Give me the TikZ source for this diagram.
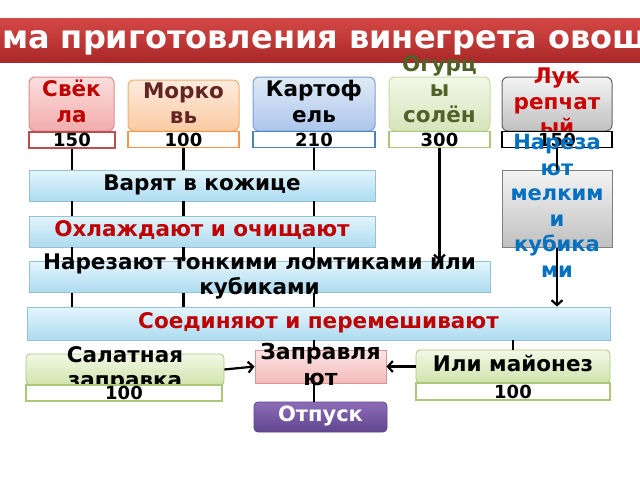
\documentclass[tikz,border=0pt]{standalone}
\usepackage{fontspec}
\setmainfont{DejaVu Sans}
\usetikzlibrary{arrows.meta}

\definecolor{beettxt}{RGB}{192,0,0}
\definecolor{carrottxt}{RGB}{99,37,35}
\definecolor{cuketxt}{RGB}{79,98,40}
\definecolor{onionTxt}{RGB}{204,0,0}
\definecolor{dicetxt}{RGB}{0,112,192}
\definecolor{bartop}{RGB}{228,245,252}
\definecolor{barbot}{RGB}{172,219,240}
\definecolor{barline}{RGB}{150,192,212}
\definecolor{greentop}{RGB}{242,248,230}
\definecolor{greenbot}{RGB}{208,228,172}
\definecolor{greenline}{RGB}{170,200,120}

\newcommand{\spilltext}[1]{\smash{\raisebox{-0.25em}{\begin{tabular}{@{}c@{}}#1\end{tabular}}}}

\tikzset{
  veg/.style={draw, rounded corners=6pt, line width=1pt, inner sep=0pt,
    minimum height=54pt, font=\bfseries\fontsize{21.5}{25.5}\selectfont},
  qty/.style={draw, fill=white, line width=1.3pt, inner sep=0pt,
    minimum height=16pt, font=\bfseries\fontsize{18}{18}\selectfont},
  stage/.style={draw=barline, top color=bartop, bottom color=barbot, line width=0.8pt,
    inner sep=0pt, minimum height=31pt, font=\bfseries\fontsize{21.5}{24.5}\selectfont},
  sauce/.style={draw=greenline, top color=greentop, bottom color=greenbot, rounded corners=4pt,
    line width=0.8pt, inner sep=0pt, minimum height=31pt, font=\bfseries\fontsize{21.5}{25}\selectfont},
  link/.style={draw=black, line width=2.2pt},
  arr/.style={link, ->, >={Straight Barb[length=5pt,width=11pt]}},
}

\begin{document}
\begin{tikzpicture}[x=1pt,y=-1pt]
\useasboundingbox (0,0) rectangle (640,480);

% title
\node[top color={rgb,255:red,212;green,72;blue,70}, bottom color={rgb,255:red,170;green,40;blue,40},
  minimum width=640pt, minimum height=44pt, inner sep=0pt, text=white,
  font=\bfseries\fontsize{32}{32}\selectfont] (title) at (320,40) {\hspace*{10pt}\spilltext{ма приготовления винегрета овощ}};

% vegetables
\node[veg, minimum width=85pt, draw={rgb,255:red,217;green,140;blue,140}, top color={rgb,255:red,251;green,222;blue,222},
  bottom color={rgb,255:red,242;green,172;blue,172}, text=beettxt] (beet) at (71.5,104) {\spilltext{Свёк\\ла}};
\node[veg, minimum width=111pt, minimum height=51pt, draw={rgb,255:red,247;green,170;blue,110}, top color={rgb,255:red,254;green,236;blue,222},
  bottom color={rgb,255:red,250;green,202;blue,162}, text=carrottxt] (carrot) at (183.5,105.5) {\spilltext{Морко\\вь}};
\node[veg, minimum width=122pt, draw={rgb,255:red,120;green,160;blue,210}, top color={rgb,255:red,224;green,234;blue,246},
  bottom color={rgb,255:red,172;green,198;blue,236}] (potato) at (314,104) {\spilltext{Картоф\\ель}};
\node[veg, minimum width=101pt, draw={rgb,255:red,200;green,218;blue,160}, top color={rgb,255:red,242;green,248;blue,232},
  bottom color={rgb,255:red,214;green,228;blue,186}, text=cuketxt] (cucumber) at (439.5,104) {\spilltext{Огурц\\ы\\солён\\ые}};
\node[veg, minimum width=110pt, draw={rgb,255:red,100;green,100;blue,100}, top color={rgb,255:red,244;green,244;blue,244},
  bottom color={rgb,255:red,192;green,192;blue,192}, text=onionTxt] (onion) at (557,104) {\spilltext{Лук\\репчат\\ый}};

% weights
\node[qty, minimum width=86pt, draw={rgb,255:red,185;green,80;blue,78}] (q1) at (72,140) {150};
\node[qty, minimum width=111pt, draw={rgb,255:red,247;green,150;blue,70}] (q2) at (183.5,139.5) {100};
\node[qty, minimum width=122pt, draw={rgb,255:red,79;green,129;blue,189}] (q3) at (314,139.5) {210};
\node[qty, minimum width=101pt, draw={rgb,255:red,170;green,200;blue,120}] (q4) at (439.5,139.5) {300};
\node[qty, minimum width=110pt, draw=black] (q5) at (557,139.5) {150};

% stages
\node[stage, minimum width=346pt] (boil) at (202,185.5) {\spilltext{Варят в кожице}};
\node[stage, minimum width=346pt, text=beettxt] (cool) at (202,231.5) {\spilltext{Охлаждают и очищают}};
\node[stage, minimum width=461pt] (cut) at (259.5,277) {\spilltext{Нарезают тонкими ломтиками или\\кубиками}};
\node[draw={rgb,255:red,128;green,128;blue,128}, top color={rgb,255:red,244;green,244;blue,244},
  bottom color={rgb,255:red,192;green,192;blue,192}, line width=1pt, inner sep=0pt, minimum width=110pt,
  minimum height=77pt, text=dicetxt, font=\bfseries\fontsize{21}{25.5}\selectfont] (dice) at (557,208.5)
  {\spilltext{Нареза\\ют\\мелким\\и\\кубика\\ми}};
\node[stage, minimum width=583pt, minimum height=33pt, text=beettxt] (mix) at (318.5,323.5) {\spilltext{Соединяют и перемешивают}};

% dressing
\node[sauce, minimum width=198pt] (dress) at (125,369.5) {\spilltext{Салатная\\заправка}};
\node[qty, minimum width=196pt, draw=greenline] (q6) at (124,393) {100};
\node[sauce, minimum width=194pt, minimum height=33pt] (mayo) at (513,366.5) {\spilltext{Или майонез}};
\node[qty, minimum width=194pt, minimum height=17pt, draw=greenline] (q7) at (513,391.5) {100};
\node[draw={rgb,255:red,217;green,150;blue,148}, top color={rgb,255:red,252;green,228;blue,228},
  bottom color={rgb,255:red,244;green,186;blue,186}, line width=0.8pt, inner sep=0pt, minimum width=131pt,
  minimum height=33pt, font=\bfseries\fontsize{22}{26}\selectfont] (season) at (320.5,366.5) {\spilltext{Заправля\\ют}};
\node[draw={rgb,255:red,95;green,72;blue,140}, top color={rgb,255:red,140;green,108;blue,184},
  bottom color={rgb,255:red,96;green,70;blue,142}, rounded corners=4pt, line width=0.8pt, inner sep=0pt,
  minimum width=133pt, minimum height=30pt, text=white, font=\bfseries\fontsize{21}{24}\selectfont] (serve) at (320.5,417) {\spilltext{Отпуск}};

% connectors
\foreach \q in {q1,q2,q3}{
  \draw[link] (\q.south) -- (\q |- boil.north);
  \draw[link] (\q |- boil.south) -- (\q |- cool.north);
  \draw[link] (\q |- cool.south) -- (\q |- cut.north);
  \draw[link] (\q |- cut.south) -- (\q |- mix.north);
}
\draw[arr] (q4.south) -- (q4 |- cut.north);
\draw[link] (q5.south) -- (dice.north);
\draw[arr] (dice.south) -- (dice |- mix.north);
\draw[link] (q3 |- mix.south) -- (q3 |- season.north);
\draw[link] (mayo |- mix.south) -- (mayo.north);
\draw[arr] (dress.east) -- (season.west);
\draw[arr] (mayo.west) -- (season.east);
\draw[link] (q3 |- season.south) -- (q3 |- serve.north);
\end{tikzpicture}
\end{document}
